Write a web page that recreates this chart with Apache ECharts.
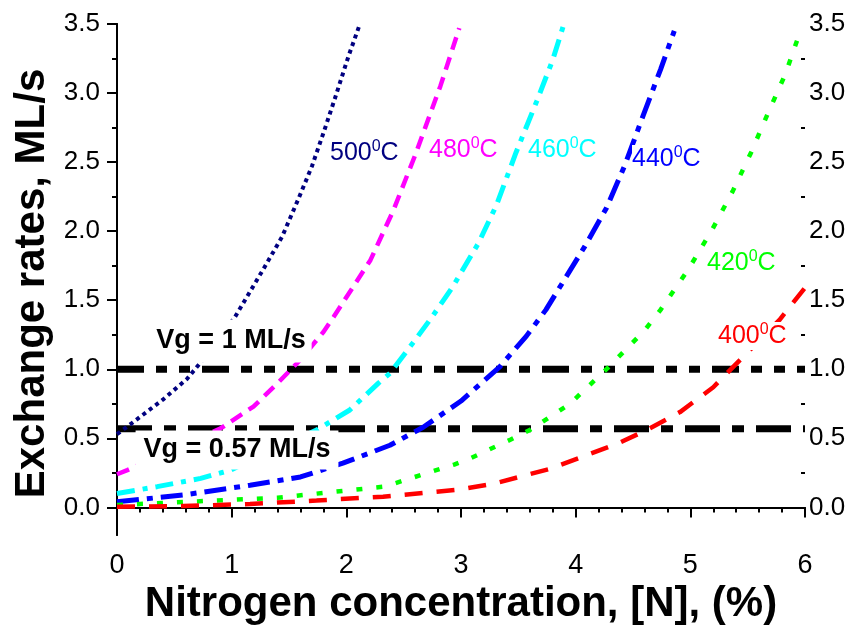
<!DOCTYPE html>
<html>
<head>
<meta charset="utf-8">
<script src="https://cdn.jsdelivr.net/npm/echarts@6/dist/echarts.min.js"></script>
<style>
  html, body { margin: 0; padding: 0; background: #fff; }
  #chart { width: 851px; height: 632px; }
</style>
</head>
<body>
<div id="chart"></div>
<script>
// exchange rate curves, [N %, ML/s]
const c500 = [[0,0.53],[0.13,0.61],[0.4,0.78],[0.61,0.93],[0.72,1.04],[1.03,1.38],[1.28,1.73],[1.44,1.96],[1.58,2.23],[1.7,2.47],[1.8,2.71],[1.9,2.96],[2.02,3.27],[2.11,3.48]];
const c480 = [[0,0.24],[0.09,0.27],[0.9,0.57],[1.19,0.73],[1.39,0.89],[1.6,1.07],[1.8,1.27],[1.89,1.38],[2.21,1.79],[2.41,2.15],[2.6,2.55],[2.82,3.05],[2.985,3.47]];
const c460 = [[0,0.10],[0.35,0.15],[0.73,0.21],[0.99,0.27],[1.74,0.56],[2.03,0.705],[2.28,0.90],[2.38,0.97],[2.58,1.19],[2.74,1.37],[2.93,1.60],[3.15,1.91],[3.31,2.19],[3.48,2.57],[3.66,2.94],[3.8,3.24],[3.89,3.48]];
const c440 = [[0,0.04],[0.58,0.09],[1.16,0.16],[1.6,0.22],[1.97,0.32],[2.38,0.45],[2.67,0.58],[3.0,0.77],[3.34,1.02],[3.57,1.24],[3.74,1.43],[4.08,1.89],[4.27,2.17],[4.43,2.48],[4.59,2.84],[4.74,3.17],[4.86,3.45]];
const c420 = [[0,0.017],[0.35,0.03],[0.87,0.05],[1.4,0.07],[1.86,0.11],[2.33,0.15],[2.94,0.31],[3.08,0.355],[3.43,0.49],[3.6,0.56],[3.95,0.75],[4.28,1.01],[4.6,1.28],[4.74,1.43],[4.98,1.72],[5.19,2.01],[5.37,2.29],[5.53,2.57],[5.68,2.86],[5.83,3.14],[5.96,3.45]];
const c400 = [[0,0.004],[0.58,0.01],[1.16,0.024],[1.74,0.05],[2.32,0.077],[2.99,0.13],[3.28,0.17],[3.78,0.28],[4.36,0.46],[4.62,0.56],[4.91,0.69],[5.2,0.87],[5.46,1.09],[5.78,1.36],[6.0,1.59]];

// growth rate levels
const vgLevels = [1, 0.57];
const vgNames = ['Vg = 1 ML/s', 'Vg = 0.57 ML/s'];
const xRange = [0, 6];

// ticks
const yMajor = [0, 0.5, 1, 1.5, 2, 2.5, 3, 3.5];
const yMinor = [0.25, 0.75, 1.25, 1.75, 2.25, 2.75, 3.25];
const tempNames = ['500', '480', '460', '440', '420', '400'];

const FONT = '"Liberation Sans", Arial, sans-serif';
const AX = { lineStyle: { color: '#000', width: 2 } };

const chart = echarts.init(document.getElementById('chart'));

function curve(name, data, color, dash, width) {
  return {
    name, type: 'line', data, xAxisIndex: 0, yAxisIndex: 0,
    smooth: false, showSymbol: false, z: 3,
    lineStyle: { color, width, type: dash }
  };
}

function vgLine(level, dash) {
  return {
    type: 'line', xAxisIndex: 0, yAxisIndex: 0, showSymbol: false, z: 2,
    data: [[xRange[0], level], [xRange[1], level]],
    lineStyle: { color: '#000', width: 7, type: dash }
  };
}

function tempLabel(t, color, x, y) {
  return {
    type: 'text', x, y, z: 100,
    style: {
      text: '{n|' + t + '}{s|0}{n|C}',
      fill: color, verticalAlign: 'middle', backgroundColor: '#fff',
      rich: {
        n: { fontSize: 25, fontFamily: FONT, fill: color, lineHeight: 28 },
        s: { fontSize: 16, fontFamily: FONT, fill: color, lineHeight: 12, verticalAlign: 'top' }
      }
    }
  };
}

const majorLabel = v => v.toFixed(1);

chart.setOption({
  animation: false,
  grid: [
    { left: 117, right: 46, top: 24, bottom: 97 },
    { left: 117, right: 46, top: 24, bottom: 97 }
  ],
  xAxis: [
    {
      type: 'value', gridIndex: 0, position: 'bottom', min: 0, max: 6, interval: 1,
      axisLine: AX,
      axisTick: { length: 10, lineStyle: { color: '#000', width: 2 } },
      minorTick: { show: true, splitNumber: 5, length: 5, lineStyle: { color: '#000', width: 2 } },
      axisLabel: { fontSize: 27, fontFamily: FONT, color: '#000', margin: 17 },
      splitLine: { show: false },
      name: 'Nitrogen concentration, [N], (%)', nameLocation: 'middle', nameGap: 48,
      nameTextStyle: { fontSize: 42, fontWeight: 'bold', fontFamily: FONT, color: '#000' }
    },
    {
      type: 'value', gridIndex: 0, position: 'top', min: 0, max: 6, interval: 1,
      axisLine: AX,
      axisTick: { inside: true, length: 5, lineStyle: { color: '#000', width: 2 } },
      minorTick: { show: true, splitNumber: 5, length: 4, lineStyle: { color: '#000', width: 2 } },
      axisLabel: { show: false }, splitLine: { show: false }
    },
    {
      type: 'value', gridIndex: 1, min: 0, max: 6, show: false
    }
  ],
  yAxis: [
    {
      type: 'value', gridIndex: 0, position: 'left', min: -0.2, max: 3.5,
      axisLine: AX,
      axisTick: { customValues: yMajor, length: 10, lineStyle: { color: '#000', width: 2 } },
      axisLabel: { customValues: yMajor, formatter: majorLabel, fontSize: 26, fontFamily: FONT, color: '#000', margin: 17 },
      splitLine: { show: false },
      name: 'Exchange rates, ML/s', nameLocation: 'middle', nameGap: 56, nameRotate: 90,
      nameTextStyle: { fontSize: 42, fontWeight: 'bold', fontFamily: FONT, color: '#000', padding: [0, 8, 0, 0] }
    },
    {
      type: 'value', gridIndex: 0, position: 'right', min: -0.2, max: 3.5,
      axisLine: AX,
      axisTick: { customValues: yMajor, inside: true, length: 5, lineStyle: { color: '#000', width: 2 } },
      axisLabel: { customValues: yMajor, formatter: majorLabel, fontSize: 26, fontFamily: FONT, color: '#000', margin: 4 },
      splitLine: { show: false }
    },
    {
      type: 'value', gridIndex: 1, position: 'left', min: -0.2, max: 3.5,
      axisLine: { show: false },
      axisTick: { customValues: yMinor, length: 5, lineStyle: { color: '#000', width: 2 } },
      axisLabel: { show: false }, splitLine: { show: false }
    },
    {
      type: 'value', gridIndex: 1, position: 'right', min: -0.2, max: 3.5,
      axisLine: { show: false },
      axisTick: { customValues: yMinor, inside: true, length: 4, lineStyle: { color: '#000', width: 2 } },
      axisLabel: { show: false }, splitLine: { show: false }
    }
  ],
  series: [
    vgLine(vgLevels[0], [27, 12, 11, 12, 11, 12]),
    vgLine(vgLevels[1], [35, 12, 12, 12]),
    curve('500', c500, '#000080', [4, 4], 4),
    curve('480', c480, '#ff00ff', [13, 8], 4.5),
    curve('460', c460, '#00ffff', [18, 8, 5, 8], 5),
    curve('440', c440, '#0000ff', [22, 8, 6, 8], 5),
    curve('420', c420, '#00ff00', [6, 14], 4.5),
    curve('400', c400, '#ff0000', [18, 14], 4.5)
  ],
  graphic: [
    tempLabel(tempNames[0], '#000080', 330, 153),
    tempLabel(tempNames[1], '#ff00ff', 429, 150),
    tempLabel(tempNames[2], '#00ffff', 528, 150),
    tempLabel(tempNames[3], '#0000ff', 632, 159),
    tempLabel(tempNames[4], '#00ff00', 707, 263),
    tempLabel(tempNames[5], '#ff0000', 718, 336),
    {
      type: 'text', x: 231, y: 341, z: 100,
      style: { text: vgNames[0], font: 'bold 27px ' + FONT, fill: '#000', align: 'center', verticalAlign: 'middle', backgroundColor: '#fff', padding: [8, 6] }
    },
    {
      type: 'text', x: 237, y: 450, z: 100,
      style: { text: vgNames[1], font: 'bold 27px ' + FONT, fill: '#000', align: 'center', verticalAlign: 'middle', backgroundColor: '#fff', padding: [3, 8, 9, 8] }
    }
  ]
});
</script>
</body>
</html>
